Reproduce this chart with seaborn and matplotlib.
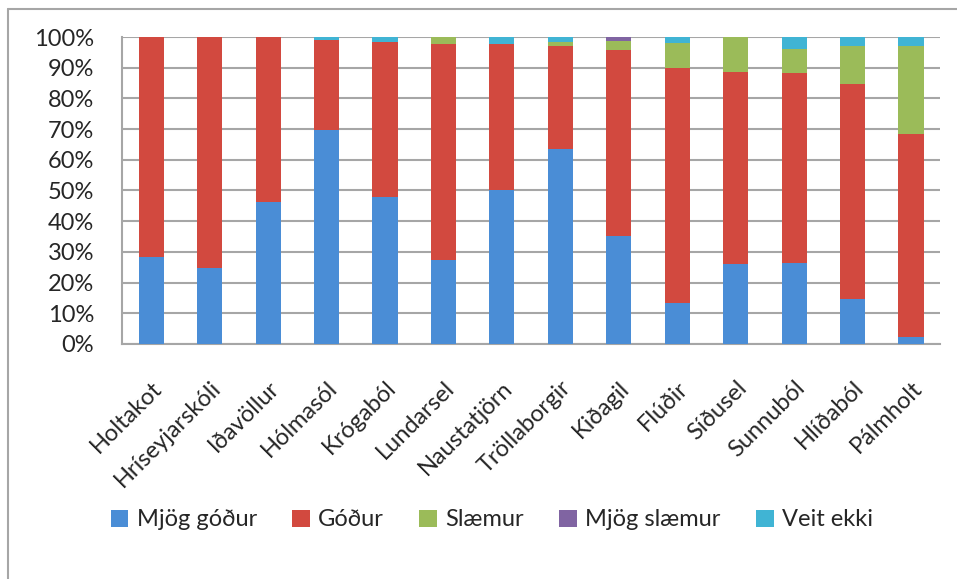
import numpy as np
import pandas as pd
import matplotlib
matplotlib.use("Agg")
import matplotlib.pyplot as plt
from matplotlib.lines import Line2D
from matplotlib.patches import Patch
import seaborn as sns

# Data (percent of answers per school)
schools = ["Holtakot", "Hríseyjarskóli", "Iðavöllur", "Hólmasól", "Krógaból",
           "Lundarsel", "Naustatjörn", "Tröllaborgir", "Kiðagil", "Flúðir",
           "Síðusel", "Sunnuból", "Hlíðaból", "Pálmholt"]
mjog_godur = [28.3, 24.6, 46.4, 69.8, 47.9, 27.2, 50.2, 63.5, 35.1, 13.2, 26.2, 26.5, 14.6, 2.4]
godur = [71.7, 75.4, 53.6, 29.2, 50.4, 70.5, 47.5, 33.6, 60.7, 76.8, 62.5, 61.8, 70.1, 65.9]
slaemur = [0, 0, 0, 0, 0, 2.3, 0, 1.4, 3.0, 8.1, 11.3, 7.8, 12.4, 28.9]
mjog_slaemur = [0, 0, 0, 0, 0, 0, 0, 0, 1.2, 0, 0, 0, 0, 0]
veit_ekki = [0, 0, 0, 1.0, 1.7, 0, 2.3, 1.5, 0, 1.9, 0, 3.9, 2.9, 2.8]

series = ["Mjög góður", "Góður", "Slæmur", "Mjög slæmur", "Veit ekki"]
colors = ["#4A8DD6", "#D2493F", "#9BBB59", "#8064A2", "#40B4D4"]

df = pd.DataFrame({"Skóli": schools, "Mjög góður": mjog_godur, "Góður": godur,
                   "Slæmur": slaemur, "Mjög slæmur": mjog_slaemur, "Veit ekki": veit_ekki})
cum = df[series].cumsum(axis=1)

sns.set_style("white")
plt.rcParams["font.family"] = ["Lato", "DejaVu Sans"]

fig = plt.figure(figsize=(9.57, 5.79), dpi=100)
ax = fig.add_axes([0.1275, 0.406, 0.855, 0.53])

# stacked bars: draw cumulative totals from the top layer down
for name, col in reversed(list(zip(series, colors))):
    sns.barplot(x=df["Skóli"], y=cum[name], color=col, width=0.43,
                saturation=1, ax=ax, edgecolor="none", zorder=3)

ax.set_ylim(0, 100)
ax.set_xlim(-0.5, len(schools) - 0.5)
ax.set_yticks(np.arange(0, 101, 10))
ax.set_yticklabels([f"{v}%" for v in range(0, 101, 10)], fontsize=17)
ax.yaxis.grid(True, color="#A6A6A6", linewidth=1.5, zorder=0)
ax.set_axisbelow(True)
ax.set_xlabel("")
ax.set_ylabel("")

for s in ["top", "right"]:
    ax.spines[s].set_visible(False)
for s in ["left", "bottom"]:
    ax.spines[s].set_color("#A6A6A6")
    ax.spines[s].set_linewidth(1.5)

ax.tick_params(axis="y", length=8, width=1.5, color="#A6A6A6", pad=12)
ax.set_xticks(np.arange(len(schools)))
ax.set_xticks(np.arange(len(schools) + 1) - 0.5, minor=True)
ax.tick_params(axis="x", which="major", length=0, pad=24)
ax.tick_params(axis="x", which="minor", length=7, width=1.5, color="#A6A6A6")
ax.set_xticklabels(schools, rotation=45, ha="right", rotation_mode="anchor",
                   fontsize=17)

handles = [Patch(facecolor=c, edgecolor="none") for c in colors]
fig.legend(handles, series, loc="center", bbox_to_anchor=(0.514, 0.102),
           ncol=5, frameon=False, fontsize=17, handlelength=0.75,
           handleheight=0.75, handletextpad=0.35, columnspacing=1.5)

# chart border (left and top edges visible)
fig.add_artist(Line2D([0.0084, 0.0084], [0, 0.985], color="#A6A6A6", lw=1.5))
fig.add_artist(Line2D([0.0084, 1], [0.985, 0.985], color="#A6A6A6", lw=1.5))

fig.savefig("out.png", dpi=100)
